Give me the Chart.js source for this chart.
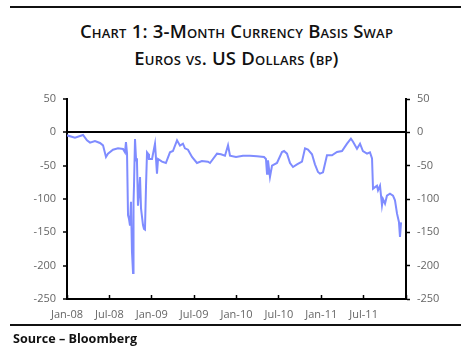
<!DOCTYPE html>
<html>
<head>
<meta charset="utf-8">
<script src="https://cdn.jsdelivr.net/npm/chart.js@4.4.1/dist/chart.umd.min.js"></script>
<style>
  html, body { margin: 0; padding: 0; background: #fff; }
  #wrap { position: relative; width: 473px; height: 357px; overflow: hidden; background: #fff; }
  #chart { position: absolute; left: 0; top: 0; }
  .rule { position: absolute; left: 10px; width: 451px; height: 2px; background: #111; }
  .title { position: absolute; left: 0; width: 473px; text-align: center; font-family: "Open Sans", sans-serif;
           font-weight: 600; font-variant: small-caps; font-size: 18.5px; color: #111; letter-spacing: 0.2px; }
  #source { position: absolute; left: 13px; top: 330px; font-family: "Open Sans", sans-serif; font-weight: 700;
            font-size: 12.6px; color: #111; }
</style>
</head>
<body>
<div id="wrap">
  <div class="rule" style="top:6px"></div>
  <div class="title" style="top:18px">Chart 1: 3-Month Currency Basis Swap</div>
  <div class="title" style="top:45px">Euros vs. US Dollars (bp)</div>
  <canvas id="chart" width="473" height="357"></canvas>
  <div class="rule" style="top:324px"></div>
  <div id="source">Source – Bloomberg</div>
</div>
<script>
// Months since Jan-2008 (x) and 3-month EUR/USD basis swap in bp (y)
const monthsSinceJan08 = [
  0, 1.13, 2.27, 2.83, 3.26, 3.96, 4.67, 5.1, 5.52, 5.8, 6.51, 7.22, 7.93, 8.21, 8.35, 8.5,
  8.64, 8.78, 8.92, 9.06, 9.2, 9.35, 9.42, 9.49, 9.63, 9.77, 9.91, 10.05, 10.2, 10.34, 10.48,
  10.76, 10.9, 11.04, 11.19, 11.33, 11.47, 11.61, 12.04, 12.46, 12.6, 12.74, 12.89, 13.45, 14.0,
  14.58, 15.0, 15.58, 16.0, 16.42, 16.7, 17.13, 17.7, 18.4, 19.1, 19.96, 20.25, 21.24, 21.8,
  22.37, 22.8, 23.08, 23.93, 24.92, 25.9, 26.9, 27.9, 28.17, 28.32, 28.46, 28.74, 29.03, 29.73,
  30.44, 30.73, 31.15, 31.58, 32.0, 32.57, 33.27, 33.7, 34.12, 34.69, 35.11, 35.54, 35.82, 36.25,
  36.81, 37.52, 38.23, 38.94, 39.65, 40.2, 40.5, 41.06, 41.49, 41.9, 42.48, 42.9, 43.19, 43.33,
  43.89, 44.04, 44.32, 44.6, 44.74, 45.03, 45.3, 45.73, 46.16, 46.44, 46.73, 47.0, 47.15, 47.3
];
const basisSwapBp = [
  -4.5, -8, -4, -12, -15.5, -13, -16, -19.5, -37, -32, -26, -24, -25, -30, -14.5, -32,
  -124, -130, -140, -104, -179, -211, -105, -79, -10, -39, -45, -110, -90, -67, -114,
  -139, -145, -146, -80, -30, -32, -40, -40, -17, -39, -62, -40, -44, -46,
  -30, -28, -12, -20, -17, -24, -26, -37, -46, -43, -44, -46, -32, -33,
  -35, -19.5, -35, -37, -35, -35, -36, -37, -40, -62, -42, -67, -50, -46,
  -29.5, -28, -32, -46, -52, -48, -44, -24, -26, -33, -48, -59.5, -62, -60,
  -34.5, -34.5, -29.5, -28, -17, -9.5, -14, -24.5, -17, -28, -32, -30, -39, -84.5,
  -80, -87, -80, -109.5, -100, -107, -95, -92, -95, -102, -122, -134.5, -157, -135
];
const xTickLabels = ['Jan-08', 'Jul-08', 'Jan-09', 'Jul-09', 'Jan-10', 'Jul-10', 'Jan-11', 'Jul-11', ''];
const yMin = -250, yMax = 50, yStep = 50;

const points = monthsSinceJan08.map((m, i) => ({ x: m, y: basisSwapBp[i] }));

const tickFont = { family: '"Open Sans", sans-serif', size: 11 };
const tickColor = '#666';

new Chart(document.getElementById('chart'), {
  type: 'line',
  data: {
    datasets: [{
      data: points,
      borderColor: '#7f8cff',
      borderWidth: 2,
      pointRadius: 0,
      tension: 0,
      fill: false
    }]
  },
  options: {
    responsive: false,
    animation: false,
    events: [],
    layout: { padding: { top: 99, left: 0, right: 0, bottom: 0 } },
    plugins: { legend: { display: false }, tooltip: { enabled: false } },
    scales: {
      x: {
        type: 'linear',
        min: 0, max: 48,
        afterBuildTicks: s => { s.ticks = xTickLabels.map((_, i) => ({ value: i * 6 })); },
        afterFit: s => { s.height = 58; },
        ticks: {
          autoSkip: false, maxRotation: 0, font: tickFont, color: tickColor, padding: 13,
          callback: (v, i) => xTickLabels[i]
        },
        grid: { drawOnChartArea: false, tickLength: -4, tickColor: '#000', tickWidth: 1.5 },
        border: { color: '#000', width: 2 }
      },
      y: {
        position: 'left',
        min: yMin, max: yMax,
        afterFit: s => { s.width = 67; },
        ticks: { stepSize: yStep, font: tickFont, color: tickColor, padding: 7 },
        grid: {
          drawOnChartArea: true,
          color: c => (c.tick && c.tick.value === 0) ? '#000' : 'rgba(0,0,0,0)',
          lineWidth: 2,
          tickColor: '#000', tickLength: 4, tickWidth: 1.5
        },
        border: { color: '#000', width: 2 }
      },
      y2: {
        position: 'right',
        min: yMin, max: yMax,
        afterFit: s => { s.width = 67; },
        ticks: { stepSize: yStep, font: tickFont, color: tickColor, padding: 7 },
        grid: { drawOnChartArea: false, tickColor: '#000', tickLength: 4, tickWidth: 1.5 },
        border: { color: '#000', width: 2 }
      }
    }
  }
});
</script>
</body>
</html>
